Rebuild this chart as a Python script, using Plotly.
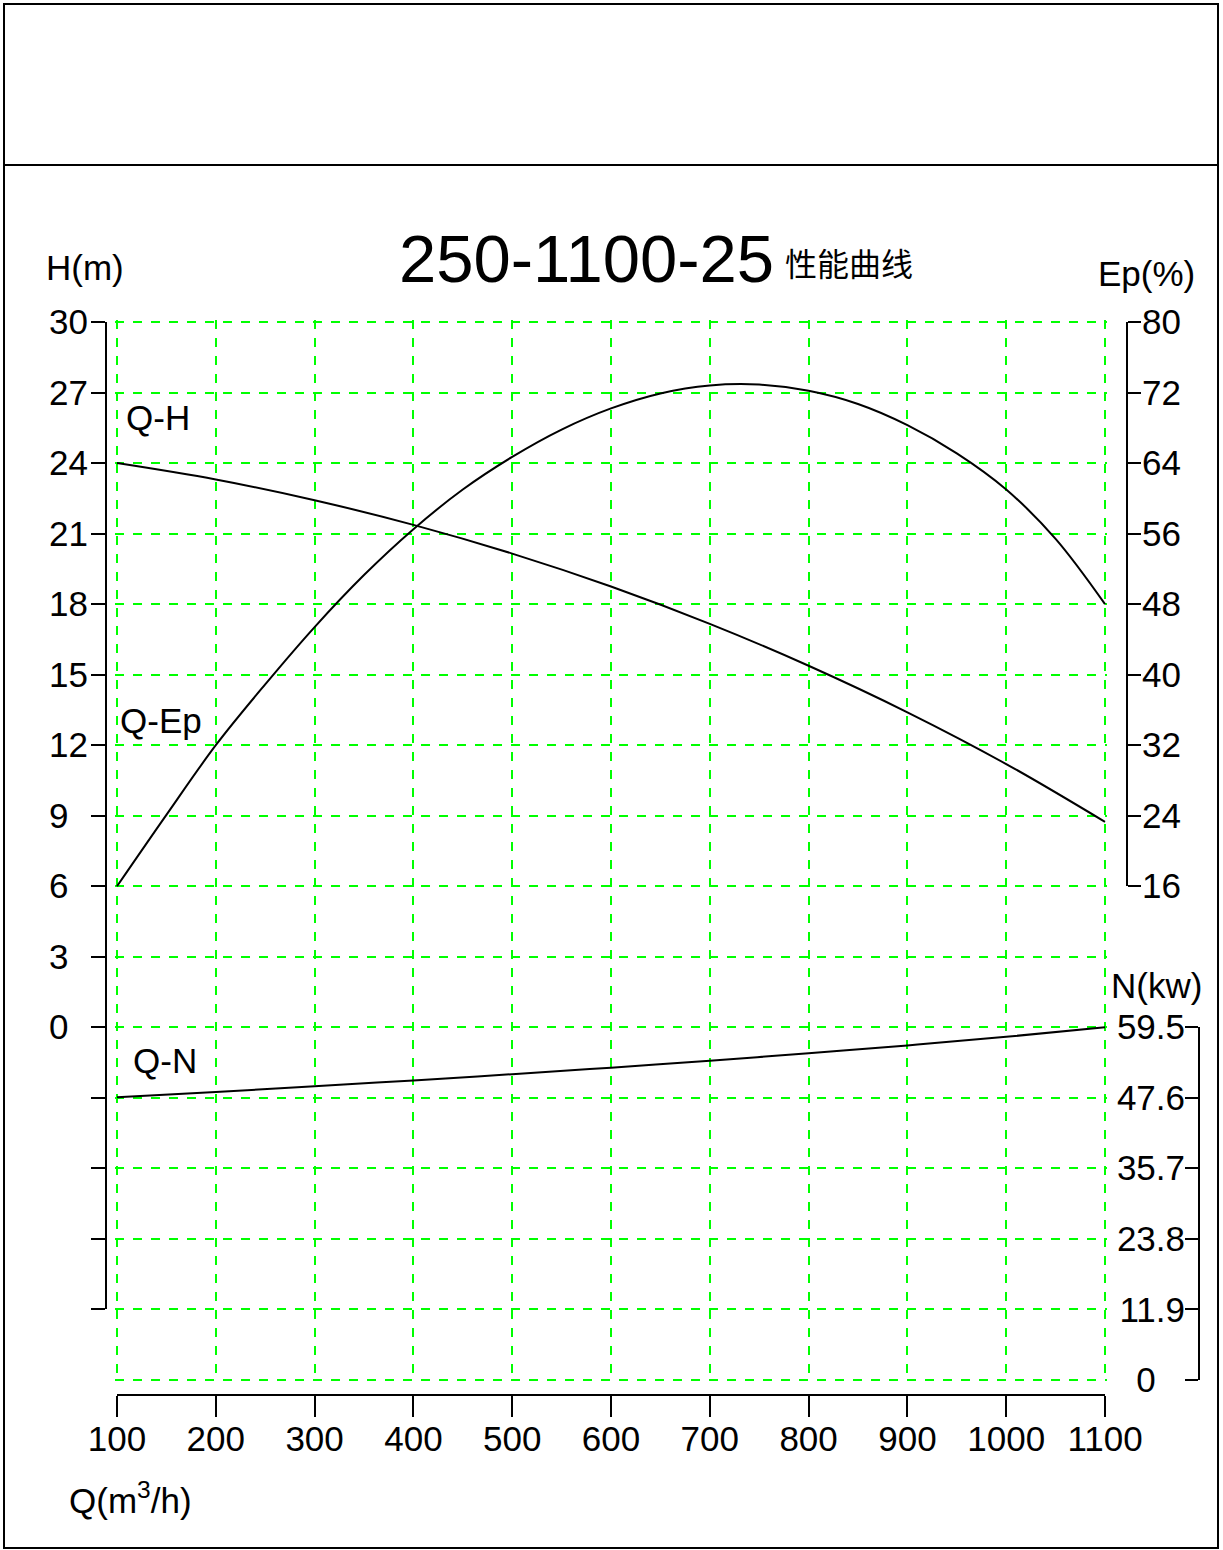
import plotly.graph_objects as go

# ---------------- data ----------------
Q_grid = [100, 200, 300, 400, 500, 600, 700, 800, 900, 1000, 1100]
H_values = [24.0, 23.30, 22.42, 21.37, 20.15, 18.75, 17.16, 15.38, 13.40, 11.20, 8.74]
N_values = [47.7, 48.6, 49.55, 50.55, 51.6, 52.7, 53.88, 55.13, 56.45, 57.9, 59.5]
Q_ep = [100, 150, 200, 250, 300, 350, 400, 450, 500, 550, 600, 650, 700, 750,
        800, 850, 900, 950, 1000, 1050, 1100]
Ep_values = [16.0, 24.1, 32.0, 38.9, 45.4, 51.3, 56.5, 61.0, 64.7, 67.8, 70.2, 71.9,
             72.8, 72.9, 72.2, 70.7, 68.3, 65.1, 61.0, 55.4, 48.0]

x_ticks = [100, 200, 300, 400, 500, 600, 700, 800, 900, 1000, 1100]
H_ticks = [30, 27, 24, 21, 18, 15, 12, 9, 6, 3, 0, -3, -6, -9, -12]
H_ticklabels = ["30", "27", "24", "21", "18", "15", "12", "9", "6", "3", "0", "", "", "", ""]
Ep_ticks = [80, 72, 64, 56, 48, 40, 32, 24, 16]
N_ticks = [59.5, 47.6, 35.7, 23.8, 11.9, 0]
N_ticklabels = ["59.5", "47.6", "35.7", "23.8", "11.9", "0"]

title_num = "250-1100-25"
title_cn = "性能曲线"

# ---------------- geometry helpers ----------------
W, HGT = 1223, 1550
NB = "\u00a0"


def px(x):
    return x / W


def py(y):
    return 1 - y / HGT


# CAD-style label alignment: short labels sit flush left in the label column
H_ticktext = [t + NB * 2 if len(t) == 1 else t for t in H_ticklabels]
N_ticktext = [t + NB * 3 if len(t) == 1 else t for t in N_ticklabels]

X_L, X_R = 117, 1105          # Q = 100 .. 1100
Y_T, Y_B = 322, 1380          # grid top / bottom
STEP = (Y_B - Y_T) / 15.0     # px per grid row
PAD = 2
kx = (X_R - X_L) / 1000.0

grid_xrange = [100 - PAD / kx, 1100 + PAD / kx]
H_range = [-15 - PAD * 3 / STEP, 30 + PAD * 3 / STEP]
Ep_range = [-40 - PAD * 8 / STEP, 80 + PAD * 8 / STEP]
N_range = [0 - PAD * 11.9 / STEP, 178.5 + PAD * 11.9 / STEP]
grid_xdom = [px(X_L - PAD), px(X_R + PAD)]
grid_ydom = [py(Y_B + PAD), py(Y_T - PAD)]

FONT = "Liberation Sans, Arial, sans-serif"
GREEN = "#00FF00"
TICKF = dict(family=FONT, size=35, color="black")

fig = go.Figure()

curve = dict(color="black", width=2, shape="spline", smoothing=1.0)
fig.add_trace(go.Scatter(x=Q_grid, y=H_values, mode="lines", line=curve,
                         xaxis="x", yaxis="y", showlegend=False, name="Q-H"))
fig.add_trace(go.Scatter(x=Q_ep, y=Ep_values, mode="lines", line=curve,
                         xaxis="x", yaxis="y2", showlegend=False, name="Q-Ep"))
fig.add_trace(go.Scatter(x=Q_grid, y=N_values, mode="lines", line=curve,
                         xaxis="x", yaxis="y3", showlegend=False, name="Q-N"))

# invisible traces so the display axes are built
fig.add_trace(go.Scatter(x=[None], y=[None], xaxis="x2", yaxis="y4", showlegend=False, hoverinfo="skip"))
fig.add_trace(go.Scatter(x=[None], y=[None], xaxis="x2", yaxis="y5", showlegend=False, hoverinfo="skip"))
fig.add_trace(go.Scatter(x=[None], y=[None], xaxis="x2", yaxis="y6", showlegend=False, hoverinfo="skip"))

common_grid = dict(showgrid=True, gridcolor=GREEN, gridwidth=2, griddash="dash",
                   zeroline=False, showline=False, ticks="", showticklabels=False,
                   fixedrange=True, automargin=False)
hidden = dict(showgrid=False, zeroline=False, showline=False, ticks="",
              showticklabels=False, automargin=False)
disp = dict(showgrid=False, zeroline=False, showline=True, linecolor="black",
            linewidth=2, ticks="outside", tickwidth=2, tickcolor="black",
            tickmode="array", tickfont=TICKF, automargin=False)

fig.update_layout(
    width=W, height=HGT, autosize=False,
    margin=dict(l=0, r=0, t=0, b=0, pad=0, autoexpand=False),
    paper_bgcolor="white", plot_bgcolor="rgba(0,0,0,0)",
    showlegend=False,
    xaxis=dict(domain=grid_xdom, range=grid_xrange, anchor="y",
               tickmode="array", tickvals=x_ticks, **common_grid),
    yaxis=dict(domain=grid_ydom, range=H_range, anchor="x",
               tickmode="array", tickvals=[-15 + 3 * i for i in range(16)], **common_grid),
    yaxis2=dict(overlaying="y", range=Ep_range, anchor="x", **hidden),
    yaxis3=dict(overlaying="y", range=N_range, anchor="x", **hidden),
    # display x axis
    xaxis2=dict(domain=[px(X_L), px(X_R)], range=[100, 1100], anchor="free",
                position=py(1395), side="bottom", ticklen=21,
                tickvals=x_ticks, ticklabelstandoff=-8, **disp),
    # display H axis
    yaxis4=dict(domain=[py(1309), py(Y_T)], range=[-12, 30], anchor="free",
                position=px(106), side="left", ticklen=14,
                tickvals=H_ticks, ticktext=H_ticktext, ticklabelstandoff=-4, **disp),
    # display Ep axis
    yaxis5=dict(domain=[py(886), py(Y_T)], range=[16, 80], anchor="free",
                position=px(1127), side="right", ticklen=13,
                tickvals=Ep_ticks, ticklabelstandoff=-6, **disp),
    # display N axis
    yaxis6=dict(domain=[py(Y_B), py(1027)], range=[0, 59.5], anchor="free",
                position=px(1199), side="left", ticklen=13,
                tickvals=N_ticks, ticktext=N_ticktext, ticklabelstandoff=-7, **disp),
)

# frame
fig.add_shape(type="rect", xref="paper", yref="paper",
              x0=px(4), x1=px(1218), y0=py(1548), y1=py(4),
              line=dict(color="black", width=2), layer="above")
fig.add_shape(type="line", xref="paper", yref="paper",
              x0=px(4), x1=px(1218), y0=py(165), y1=py(165),
              line=dict(color="black", width=2))

ann_font = dict(family=FONT, size=35, color="black")
annotations = [
    dict(text=title_num, x=px(776), y=py(258), xanchor="right", yanchor="middle",
         font=dict(family=FONT, size=67, color="black")),
    dict(text=title_cn, x=px(783), y=py(262), xanchor="left", yanchor="middle",
         font=dict(family="Noto Sans CJK SC", size=32, color="black")),
    dict(text="H(m)", x=px(44), y=py(268), xanchor="left", yanchor="middle", font=ann_font),
    dict(text="Ep(%)", x=px(1096), y=py(273), xanchor="left", yanchor="middle", font=ann_font),
    dict(text="N(kw)", x=px(1109), y=py(985), xanchor="left", yanchor="middle", font=ann_font),
    dict(text="Q(m<sup>3</sup>/h)", x=px(67), y=py(1498), xanchor="left", yanchor="middle", font=ann_font),
    dict(text="Q-H", x=px(124), y=py(418), xanchor="left", yanchor="middle", font=ann_font),
    dict(text="Q-Ep", x=px(118), y=py(720), xanchor="left", yanchor="middle", font=ann_font),
    dict(text="Q-N", x=px(131), y=py(1060), xanchor="left", yanchor="middle", font=ann_font),
]
for a in annotations:
    a.update(xref="paper", yref="paper", showarrow=False)
fig.update_layout(annotations=annotations)

fig.write_html("out.html",
               config={"displayModeBar": False, "staticPlot": True},
               post_script="document.body.style.margin='0px';document.body.style.padding='0px';")
